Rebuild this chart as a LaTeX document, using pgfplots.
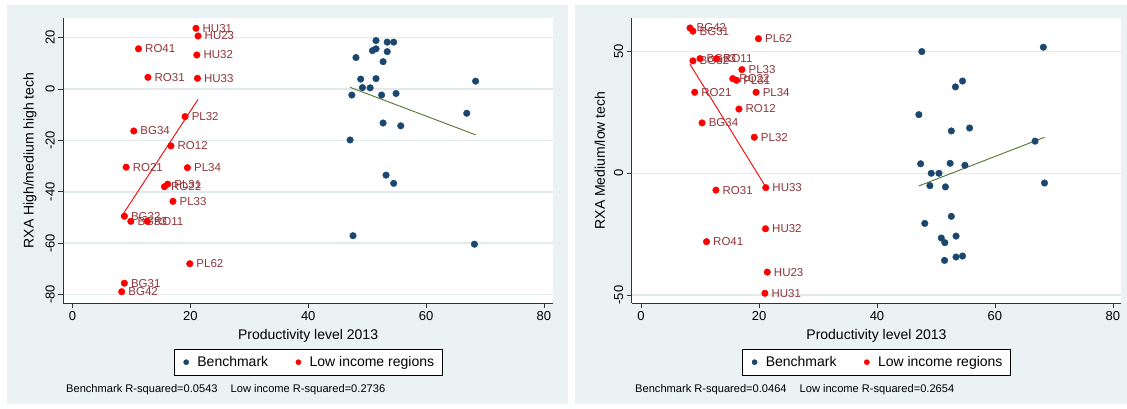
\documentclass[border=0pt]{standalone}
\usepackage{pgfplots}
\pgfplotsset{compat=1.18}
\usepackage{fontspec}
\setmainfont{Liberation Sans}
\definecolor{bgc}{RGB}{234,242,243}
\definecolor{navy}{RGB}{26,71,111}
\definecolor{maroon}{RGB}{144,53,59}
\definecolor{fgreen}{RGB}{85,117,47}
\definecolor{gridc}{RGB}{226,234,236}
\newcommand{\fs}[1]{\fontsize{#1}{#1}\selectfont}

\pgfplotstableread{
x y
51.5 18.9
53.4 18.3
54.5 18.3
50.9 15.0
51.5 15.7
53.4 14.6
48.1 12.3
52.7 10.7
48.9 3.9
51.5 4.1
49.2 0.6
50.5 0.5
47.4 -2.3
52.45 -2.3
54.9 -1.7
68.4 3.1
66.9 -9.4
52.7 -13.2
55.7 -14.3
47.1 -19.8
53.2 -33.5
54.5 -36.7
47.6 -57.1
68.2 -60.4
}\benchA

\pgfplotstableread{
x y label
20.95 23.7 HU31
21.3 20.7 HU23
11.2 15.7 RO41
21.1 13.3 HU32
12.8 4.6 RO31
21.2 4.2 HU33
19.1 -10.7 PL32
10.4 -16.3 BG34
16.7 -22.1 RO12
9.1 -30.4 RO21
19.5 -30.6 PL34
15.6 -38.0 RO22
16.15 -37.0 PL31
17.05 -43.7 PL33
8.8 -49.5 BG32
9.9 -51.5 BG33
12.7 -51.5 RO11
19.9 -68.0 PL62
8.8 -75.6 BG31
8.35 -78.9 BG42
}\lowA

\pgfplotstableread{
x y
47.6 50.0
68.2 51.8
54.5 37.9
53.3 35.5
47.1 24.1
55.7 18.6
52.6 17.4
66.8 13.2
47.4 3.9
52.4 4.1
54.9 3.3
49.2 0.0
50.5 0.0
48.97 -5.1
51.6 -5.6
68.4 -4.0
52.6 -17.7
48.1 -20.6
50.9 -26.6
51.5 -28.5
53.4 -25.8
51.45 -35.8
53.4 -34.4
54.5 -34.0
}\benchB

\pgfplotstableread{
x y label
8.3 59.7 BG42
8.8 58.4 BG31
19.9 55.3 PL62
8.8 46.2 BG32
10.0 47.1 BG33
12.8 47.1 RO11
17.1 42.6 PL33
15.55 38.9 RO22
16.2 38.2 PL31
9.1 33.3 RO21
19.5 33.3 PL34
16.6 26.4 RO12
10.35 20.7 BG34
19.2 14.8 PL32
12.7 -6.9 RO31
21.15 -5.9 HU33
21.1 -22.8 HU32
11.1 -28.1 RO41
21.4 -40.6 HU23
21.0 -49.3 HU31
}\lowB

\pgfplotsset{
  statastyle/.style={
    scale only axis, width=489.5pt, height=285pt,
    axis x line*=bottom, axis y line*=left,
    axis line style={black!80, line width=1pt},
    axis background/.style={fill=white},
    tick align=outside, major tick length=5pt,
    tick style={black!80, line width=0.8pt},
    xtick={0,20,40,60,80},
    ymajorgrids, grid style={gridc, line width=1.4pt},
    /pgf/number format/assume math mode=true,
    ticklabel style={font=\fs{13}},
    yticklabel style={rotate=90, anchor=south},
    label style={font=\fs{14}},
    xlabel={Productivity level 2013},
    xlabel style={yshift=-2pt},
    legend style={at={(0.5,-0.162)}, anchor=north, legend columns=2, draw=black, fill=white,
      font=\fs{14}, inner xsep=6pt, inner ysep=5pt,
      /tikz/every even column/.append style={column sep=22pt}},
    legend image code/.code={\path (0pt,0pt) (15pt,0pt); \draw[mark repeat=2,mark phase=2,#1,mark size=2.6pt] plot coordinates {(4pt,0pt) (6pt,0pt) (8pt,0pt)};},
    bench/.style={only marks, mark=*, mark size=3.3pt, color=navy},
    low/.style={only marks, mark=*, mark size=3.3pt, color=red,
      nodes near coords, point meta=explicit symbolic,
      nodes near coords style={anchor=west, text=maroon, font=\fs{11.5}, inner sep=1pt, xshift=5.5pt}},
  }
}

\begin{document}
\begin{tikzpicture}[x=1pt,y=1pt]
\useasboundingbox (0,0) rectangle (1127,408);
\fill[bgc] (7,4) rectangle (568,403);
\fill[bgc] (575,4) rectangle (1127,403);

\begin{axis}[statastyle, at={(63.3pt,105pt)}, anchor=south west,
  xmin=-1.56, xmax=81.5, ymin=-83.3, ymax=27.7, ytick={-80,-60,-40,-20,0,20},
  ylabel={RXA High/medium high tech},
  ylabel style={at={(axis description cs:-0.068,0.5)}, anchor=center}]
\addplot[bench] table[x=x,y=y] {\benchA};
\addlegendentry{Benchmark}
\addplot[low] table[x=x,y=y,meta=label] {\lowA};
\addlegendentry{Low income regions}
\addplot[red, line width=0.9pt, forget plot] coordinates {(8.35,-49.5) (21.3,-4.0)};
\addplot[fgreen, line width=0.9pt, forget plot] coordinates {(47.1,0.7) (68.4,-17.8)};
\end{axis}
\node[anchor=west, font=\fs{11.1}, inner sep=0pt] at (66,18) {Benchmark R-squared=0.0543\hspace{13pt}Low income R-squared=0.2736};

\begin{axis}[statastyle, at={(631.7pt,105pt)}, anchor=south west,
  xmin=-1.58, xmax=81.4, ymin=-53.3, ymax=63.8, ytick={-50,0,50},
  ylabel={RXA Medium/low tech},
  ylabel style={at={(axis description cs:-0.065,0.5)}, anchor=center}]
\addplot[bench] table[x=x,y=y] {\benchB};
\addlegendentry{Benchmark}
\addplot[low] table[x=x,y=y,meta=label] {\lowB};
\addlegendentry{Low income regions}
\addplot[red, line width=0.9pt, forget plot] coordinates {(8.3,44.8) (21.4,-6.6)};
\addplot[fgreen, line width=0.9pt, forget plot] coordinates {(47.1,-5.2) (68.4,14.8)};
\end{axis}
\node[anchor=west, font=\fs{11.1}, inner sep=0pt] at (635,18) {Benchmark R-squared=0.0464\hspace{13pt}Low income R-squared=0.2654};
\end{tikzpicture}
\end{document}
